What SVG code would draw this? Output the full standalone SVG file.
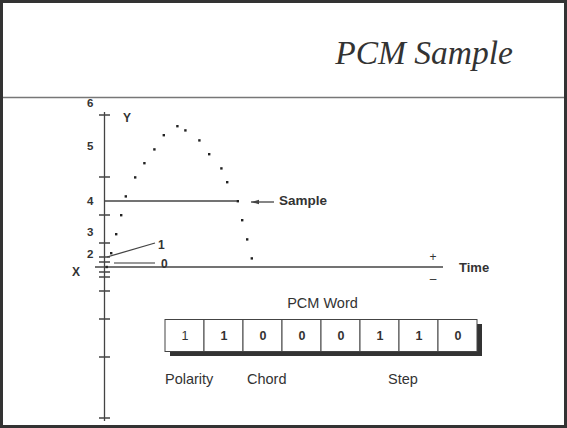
<svg xmlns="http://www.w3.org/2000/svg" width="567" height="428" viewBox="0 0 567 428">
<style>
.t{font-family:"Liberation Sans",Arial,sans-serif;fill:#333}
.b{font-weight:bold}
.ln{stroke:#444;stroke-width:1.3;fill:none}
.g{stroke:#777;stroke-width:1.3;fill:none}
.dot{fill:#222}
.cell{fill:#fff;stroke:#444;stroke-width:1}
</style>
<defs>
<marker id="ah" markerWidth="8" markerHeight="6" refX="8" refY="3" orient="auto" markerUnits="userSpaceOnUse">
<path d="M0,0.8 L8,3 L0,5.2 z" fill="#444"/>
</marker>
</defs>
<rect x="0" y="0" width="567" height="428" fill="#fff"/>
<rect x="1.5" y="1.5" width="564" height="425" fill="none" stroke="#333" stroke-width="3"/>
<line x1="3" y1="97.5" x2="564" y2="97.5" stroke="#777" stroke-width="1.5"/>
<text x="513" y="64" font-family="'Liberation Serif','Times New Roman',serif" font-style="italic" font-size="33.5" fill="#333" text-anchor="end">PCM Sample</text>

<g id="axes">
<line class="ln" x1="104.5" y1="112" x2="104.5" y2="421"/>
<line class="ln" x1="95" y1="267" x2="443" y2="267"/>
<path class="ln" d="M99,115H110M99,177H110M99,215H110M99,243H110M99,257H110M99,262H110M99,272H110M99,277H110M99,291H110M99,319H110M99,357H110M99,418H110"/>
</g>
<g id="axis-labels" class="t b" font-size="11.5">
<text x="87" y="107">6</text>
<text x="87" y="150">5</text>
<text x="87" y="205">4</text>
<text x="87" y="236">3</text>
<text x="87" y="258">2</text>
<text x="72" y="276" font-size="12">X</text>
<text x="123" y="122" font-size="12">Y</text>
</g>
<g id="samples" class="dot">
<rect x="110" y="252" width="2.4" height="2.4"/>
<rect x="115" y="233" width="2.4" height="2.4"/>
<rect x="120" y="214" width="2.4" height="2.4"/>
<rect x="124.6" y="195.2" width="2.4" height="2.4"/>
<rect x="134" y="176.2" width="2.4" height="2.4"/>
<rect x="143.2" y="162" width="2.4" height="2.4"/>
<rect x="153.2" y="148.2" width="2.4" height="2.4"/>
<rect x="162.6" y="134" width="2.4" height="2.4"/>
<rect x="176.2" y="125" width="2.4" height="2.4"/>
<rect x="184.2" y="129.2" width="2.4" height="2.4"/>
<rect x="198.2" y="139.2" width="2.4" height="2.4"/>
<rect x="208" y="153" width="2.4" height="2.4"/>
<rect x="220.2" y="167.2" width="2.4" height="2.4"/>
<rect x="226" y="181" width="2.4" height="2.4"/>
<rect x="236.6" y="200" width="2.4" height="2.4"/>
<rect x="241" y="219" width="2.4" height="2.4"/>
<rect x="246" y="238.2" width="2.4" height="2.4"/>
<rect x="250.6" y="257.2" width="2.4" height="2.4"/>
<rect x="105.5" y="265.8" width="2.4" height="2.4"/>
</g>
<g id="connectors">
<line class="ln" x1="104.5" y1="201" x2="237" y2="201"/>
<line class="ln" x1="274" y1="202" x2="251" y2="202" marker-end="url(#ah)"/>
<line class="ln" x1="107" y1="257" x2="155" y2="243"/>
<line class="g" x1="114" y1="263" x2="155" y2="263"/>
</g>
<g id="labels" class="t b">
<text x="279" y="205" font-size="13.5">Sample</text>
<text x="158" y="249" font-size="12">1</text>
<text x="161" y="268" font-size="12">0</text>
<text x="459" y="272" font-size="13">Time</text>
<text x="433" y="261" font-size="12" font-weight="normal" text-anchor="middle">+</text>
<text x="433" y="283" font-size="12" font-weight="normal" text-anchor="middle">–</text>
</g>
<g id="pcm-word">
<text class="t" x="322.5" y="308" font-size="14.5" text-anchor="middle">PCM Word</text>
<rect x="170" y="324" width="312" height="32" fill="#333"/>
<rect class="cell" x="165" y="319.5" width="39" height="32"/>
<rect class="cell" x="204" y="319.5" width="39" height="32"/>
<rect class="cell" x="243" y="319.5" width="39" height="32"/>
<rect class="cell" x="282" y="319.5" width="39" height="32"/>
<rect class="cell" x="321" y="319.5" width="39" height="32"/>
<rect class="cell" x="360" y="319.5" width="39" height="32"/>
<rect class="cell" x="399" y="319.5" width="39" height="32"/>
<rect class="cell" x="438" y="319.5" width="39" height="32"/>
<g class="t b" font-size="12.5" text-anchor="middle">
<text x="185" y="340" font-weight="normal">1</text>
<text x="224" y="340">1</text>
<text x="263" y="340">0</text>
<text x="302" y="340">0</text>
<text x="341" y="340">0</text>
<text x="380" y="340">1</text>
<text x="419" y="340">1</text>
<text x="458" y="340">0</text>
</g>
<g class="t" font-size="14.5">
<text x="165" y="384">Polarity</text>
<text x="247" y="384">Chord</text>
<text x="388" y="384">Step</text>
</g>
</g>
</svg>
